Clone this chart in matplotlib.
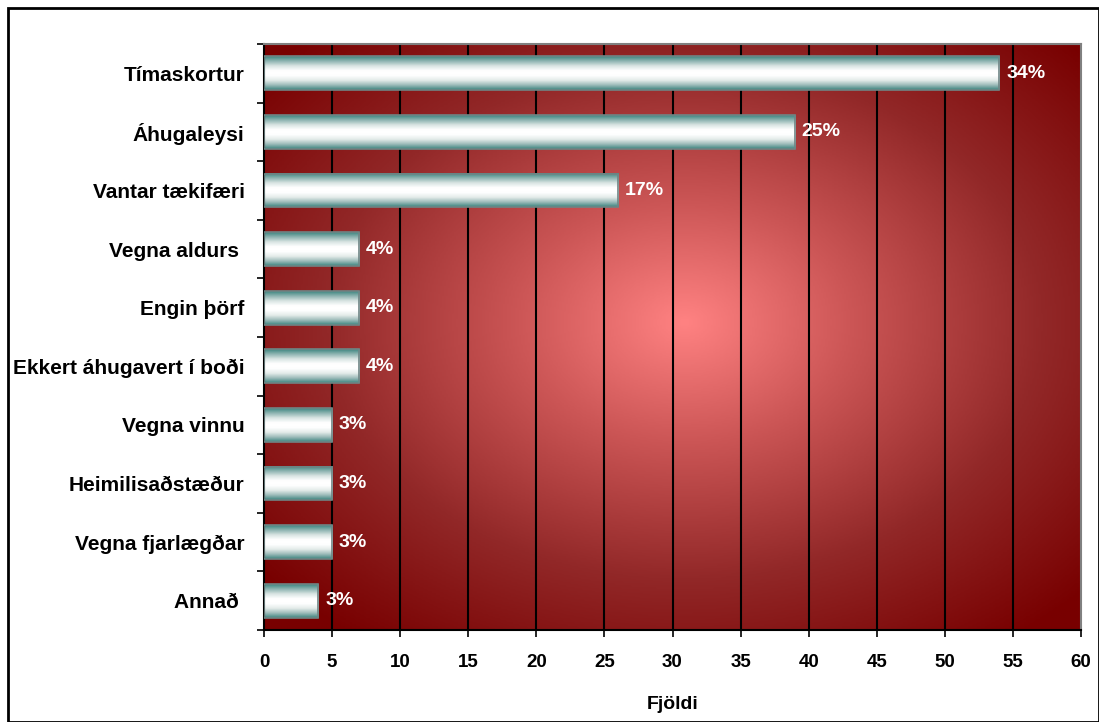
import numpy as np
import matplotlib.pyplot as plt
from matplotlib.colors import LinearSegmentedColormap

categories = ["Tímaskortur", "Áhugaleysi", "Vantar tækifæri", "Vegna aldurs ",
              "Engin þörf", "Ekkert áhugavert í boði", "Vegna vinnu",
              "Heimilisaðstæður", "Vegna fjarlægðar", "Annað "]
counts = [54, 39, 26, 7, 7, 7, 5, 5, 5, 4]
pct_labels = ["34%", "25%", "17%", "4%", "4%", "4%", "3%", "3%", "3%", "3%"]
xticks = list(range(0, 61, 5))

plt.rcParams['font.family'] = ['Liberation Sans', 'DejaVu Sans']

fig = plt.figure(figsize=(10.99, 7.22), dpi=100)
ax = fig.add_axes([264/1099, 1-630/722, (1081-264)/1099, (630-44)/722])

# radial red background
n = len(categories)
gx, gy = np.meshgrid(np.linspace(-1, 1, 400), np.linspace(-1, 1, 300))
r = np.sqrt((gx - 0.03) ** 2 + (gy + 0.05) ** 2)
bg_cmap = LinearSegmentedColormap.from_list(
    "bg", [(0, "#ff8282"), (0.3, "#cc5656"), (0.65, "#922828"), (1, "#780000")])
ax.imshow(r, cmap=bg_cmap, extent=[0, 60, n - 0.5, -0.5], aspect='auto', zorder=0,
          vmin=0, vmax=1.35)

# grid
for xv in xticks[1:-1]:
    ax.axvline(xv, color='black', lw=1.5, zorder=1)

# bars with cylinder-like shading
bar_cmap = LinearSegmentedColormap.from_list(
    "bar", ["#3f8580", "#8fb5b2", "#d8e4e2", "#ffffff", "#ffffff", "#e4ecea", "#9fbdbb", "#3f8580"])
shade = np.linspace(0, 1, 64).reshape(-1, 1)
h = 0.58
y = np.arange(n)
for i, v in enumerate(counts):
    ax.imshow(shade, cmap=bar_cmap, extent=[0, v, i + h / 2, i - h / 2], aspect='auto', zorder=2)
    ax.barh(i, v, height=h, facecolor='none', edgecolor='#6f8585', lw=1.2, zorder=3)
    ax.text(v + 0.5, i, pct_labels[i], color='white', fontsize=14, fontweight='bold',
            va='center', ha='left', zorder=4)

ax.set_xlim(0, 60)
ax.set_ylim(n - 0.5, -0.5)
ax.set_xticks(xticks)
ax.set_xticklabels([str(t) for t in xticks], fontsize=13.5, fontweight='bold')
ax.set_yticks(y)
ax.set_yticklabels(categories, fontsize=15, fontweight='bold')
ax.tick_params(axis='y', length=0, pad=14)
ax.set_yticks(np.arange(n + 1) - 0.5, minor=True)
ax.tick_params(axis='y', which='minor', length=5, width=1.2, direction='out')
ax.tick_params(axis='x', length=5, width=1.2, direction='out', pad=12)
ax.set_xlabel("Fjöldi", fontsize=14, fontweight='bold', labelpad=18)

for s in ['left', 'bottom']:
    ax.spines[s].set_color('black')
    ax.spines[s].set_linewidth(1.5)
for s in ['top', 'right']:
    ax.spines[s].set_color('#808080')
    ax.spines[s].set_linewidth(1.5)

# outer chart border
fig.patches.append(plt.Rectangle((8/1099, 0), 1 - 8/1099, 1 - 8/722, transform=fig.transFigure,
                                 fill=False, edgecolor='black', lw=2))

fig.savefig("out.png", dpi=100)
